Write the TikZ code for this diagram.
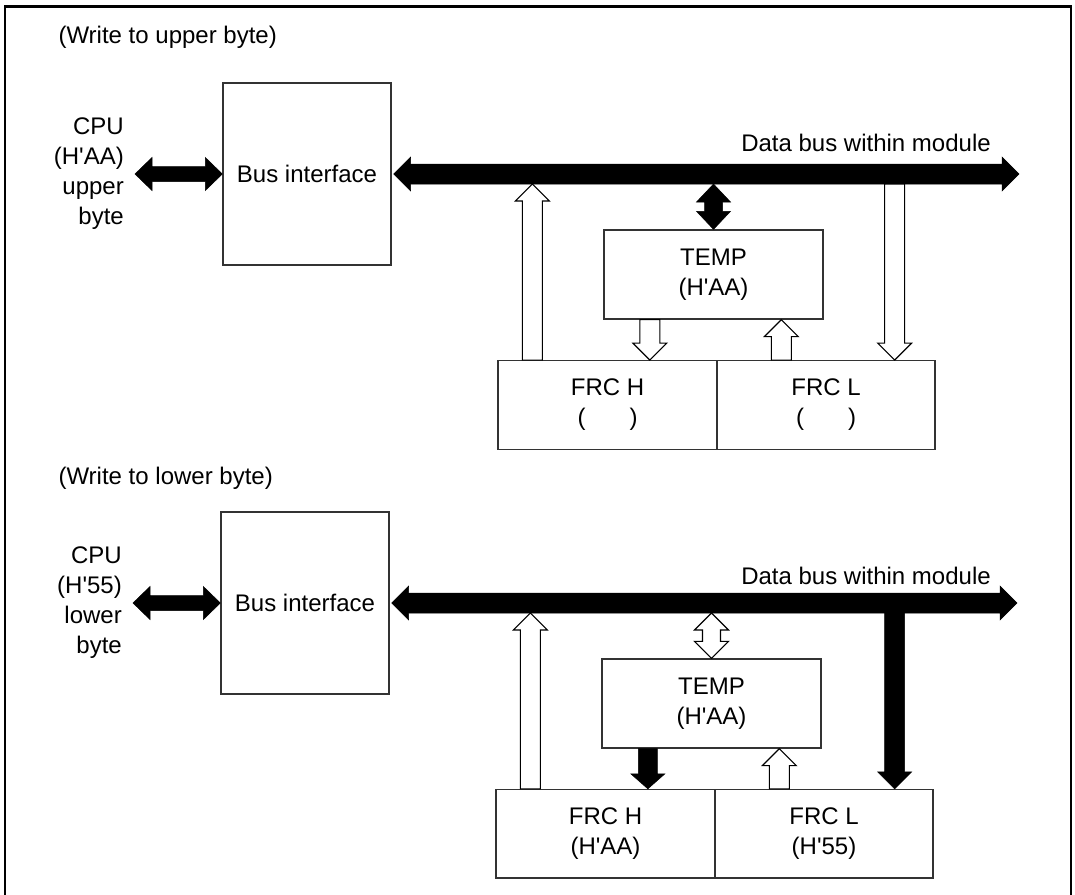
\documentclass[tikz,border=0pt]{standalone}
\usepackage{fontspec}
\setmainfont{Liberation Sans}
\usetikzlibrary{calc,positioning}
\newcommand\hx[1]{(H\textquotesingle #1)}
\tikzset{
  shaftw/.store in=\arrsw, headw/.store in=\arrhw, headl/.store in=\arrhl,
  shaftw=10pt, headw=17pt, headl=17pt,
  onehead/.style={to path={let \p1=(\tikztostart), \p2=(\tikztotarget),
      \p4=($(\p2)!\arrhl!(\p1)$) in
      ($(\p1)!\arrsw!90:(\p2)$) -- ($(\p4)!\arrsw!90:(\p2)$) -- ($(\p4)!\arrhw!90:(\p2)$)
      -- (\p2) -- ($(\p4)!\arrhw!-90:(\p2)$) -- ($(\p4)!\arrsw!-90:(\p2)$)
      -- ($(\p1)!\arrsw!-90:(\p2)$) -- cycle}},
  twohead/.style={to path={let \p1=(\tikztostart), \p2=(\tikztotarget),
      \p3=($(\p1)!\arrhl!(\p2)$), \p4=($(\p2)!\arrhl!(\p1)$) in
      (\p1) -- ($(\p3)!\arrhw!90:(\p2)$) -- ($(\p3)!\arrsw!90:(\p2)$)
      -- ($(\p4)!\arrsw!90:(\p2)$) -- ($(\p4)!\arrhw!90:(\p2)$) -- (\p2)
      -- ($(\p4)!\arrhw!-90:(\p2)$) -- ($(\p4)!\arrsw!-90:(\p2)$)
      -- ($(\p3)!\arrsw!-90:(\p2)$) -- ($(\p3)!\arrhw!-90:(\p2)$) -- cycle}},
}
\begin{document}
\begin{tikzpicture}[x=1pt,y=-1pt,font=\fontsize{24}{30}\selectfont,
  bx/.style={draw=black!80,line width=1.3pt,inner sep=0,align=center},
  lbl/.style={anchor=east,inner sep=0,align=right},
  blk/.style={fill=black,draw=black,line width=0.5pt,line join=miter},
  hol/.style={fill=white,draw=black,line width=1.1pt,line join=miter}]
\useasboundingbox (0,0) rectangle (1075,894);
\draw[line width=2.3pt] (5,900) -- (5,6.5) -- (1071,6.5) -- (1071,900);
% upper byte
\node[anchor=west] (ttl1) at (55,37) {(Write to upper byte)};
\node[lbl] (cpu1) at (124,174) {CPU\\\hx{AA}\\upper\\byte};
\node[bx,minimum width=168pt,minimum height=182pt] (bi1) at (307,174) {Bus interface};
\node (dbl1) at (866,143) {Data bus within module};
\node[bx,minimum width=219pt,minimum height=89pt] (tmp1) at (713.5,274.5) {TEMP\\\hx{AA}};
\node[bx,minimum width=219pt,minimum height=88.5pt] (frh1) at (607.5,405) {FRC H\\(\hspace{44pt})};
\node[bx,minimum width=218pt,minimum height=88.5pt] (frl1) at (826,405) {FRC L\\(\hspace{44pt})};
\coordinate (be1) at (1019,174);
\coordinate (bb1) at ([yshift=-10pt]bi1.east);
\coordinate (ua1) at ([xshift=35pt]frh1.north west);
\coordinate (ub1) at ([xshift=46.5pt]tmp1.south west);
\coordinate (uc1) at ([xshift=65pt]frl1.north west);
\coordinate (ud1) at ([xshift=-41pt]frl1.north east);
\draw[blk,twohead,shaftw=7.5pt,headw=16.5pt] ([xshift=11pt]cpu1.east) to (bi1.west);
\draw[blk,twohead] ([xshift=2pt]bi1.east) to (be1);
\draw[blk,twohead,shaftw=9pt,headl=18pt] (tmp1.north |- bb1) to (tmp1.north);
\draw[hol,onehead] (ua1) to (ua1 |- bb1);
\draw[hol,onehead] (ub1) to (ub1 |- frh1.north);
\draw[hol,onehead] (uc1) to (uc1 |- tmp1.south);
\draw[hol,onehead] (ud1 |- bb1) to (ud1);
% lower byte
\node[anchor=west] (ttl2) at (55,478) {(Write to lower byte)};
\node[lbl] (cpu2) at (122,603) {CPU\\\hx{55}\\lower\\byte};
\node[bx,minimum width=168pt,minimum height=182pt] (bi2) at (305,603) {Bus interface};
\node (dbl2) at (866,576) {Data bus within module};
\node[bx,minimum width=219pt,minimum height=89pt] (tmp2) at (711.5,703.5) {TEMP\\\hx{AA}};
\node[bx,minimum width=219pt,minimum height=88.5pt] (frh2) at (605.5,833.75) {FRC H\\\hx{AA}};
\node[bx,minimum width=218pt,minimum height=88.5pt] (frl2) at (824,833.75) {FRC L\\\hx{55}};
\coordinate (be2) at (1017,603);
\coordinate (bb2) at ([yshift=-10pt]bi2.east);
\coordinate (ua2) at ([xshift=35pt]frh2.north west);
\coordinate (ub2) at ([xshift=46.5pt]tmp2.south west);
\coordinate (uc2) at ([xshift=65pt]frl2.north west);
\coordinate (ud2) at ([xshift=-39pt]frl2.north east);
\draw[blk,twohead,shaftw=7.5pt,headw=16.5pt] ([xshift=11pt]cpu2.east) to (bi2.west);
\draw[blk,twohead] ([xshift=2pt]bi2.east) to (be2);
\draw[hol,twohead,shaftw=9pt] (tmp2.north |- bb2) to (tmp2.north);
\draw[hol,onehead] (ua2) to (ua2 |- bb2);
\draw[blk,onehead,shaftw=9.5pt,headl=15pt] (ub2) to (ub2 |- frh2.north);
\draw[hol,onehead] (uc2) to (uc2 |- tmp2.south);
\draw[blk,onehead] (ud2 |- bi2.east) to (ud2);
\end{tikzpicture}
\end{document}
